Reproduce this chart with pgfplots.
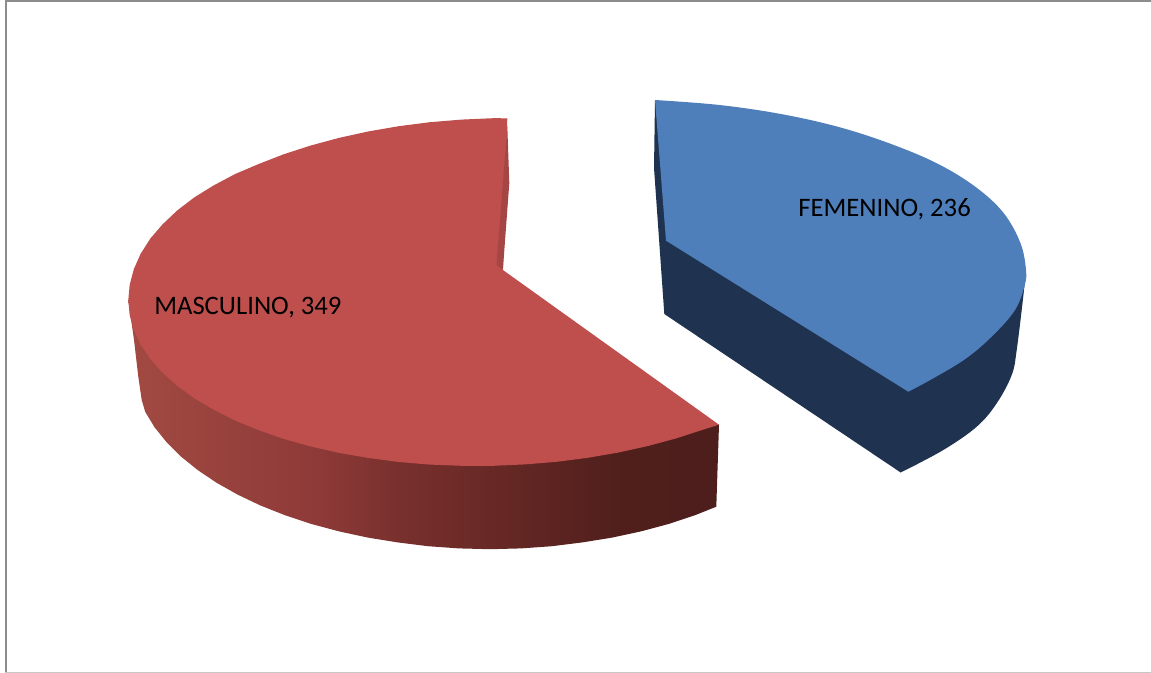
\documentclass[border=0pt]{standalone}
\usepackage{pgfplots}
\pgfplotsset{compat=1.18}
\usepackage{fontspec}
\setmainfont{Carlito}
\definecolor{redtop}{HTML}{BE4F4D}
\definecolor{redwall}{HTML}{A54644}
\definecolor{bluetop}{HTML}{4F7FBB}
\definecolor{blueside}{HTML}{1F3350}
\definecolor{rs1}{HTML}{A24A42}
\definecolor{rs2}{HTML}{8E3A38}
\definecolor{rs3}{HTML}{78302D}
\definecolor{rs4}{HTML}{662825}
\definecolor{rs5}{HTML}{501F1C}
\definecolor{rs6}{HTML}{4D1E1C}
\pgfdeclarehorizontalshading{redside}{100bp}{color(0bp)=(rs1); color(25bp)=(rs1); color(41bp)=(rs2); color(48bp)=(rs3); color(56.5bp)=(rs4); color(66.6bp)=(rs5); color(75bp)=(rs6); color(100bp)=(rs6)}
\begin{document}
\begin{tikzpicture}
\begin{axis}[
  hide axis, scale only axis,
  width=863.25pt, height=504.75pt,
  xmin=0, xmax=1151, ymin=0, ymax=673, y dir=reverse,
  every axis plot/.append style={no markers},
]
% page extent
\addplot[draw=none] coordinates {(0,0) (1151,673)};
% frame
\addplot[draw=black!45, line width=1.5pt] coordinates {(5.5,673) (5.5,1.5) (1151,1.5)};
\addplot[draw=black!22, line width=1pt] coordinates {(5,672.4) (1151,672.4)};
% masculino side
\addplot[draw=none, shading=redside] coordinates {
 (128.3,300) (134,340) (138.3,376.7) (141.7,400) (145.2,411.8) (154.5,427.2) (166.5,442.1) (180.8,456.4)
 (197.5,469.9) (216.5,482.7) (237.6,494.6) (260.5,505.5) (285.2,515.3) (311.5,524.0) (339.1,531.4)
 (367.9,537.6) (397.6,542.4) (428.0,546.2) (458.9,548.4) (490,549.2) (521.1,548.4) (552.0,546.2)
 (582.4,542.4) (612.1,537.6) (640.9,531.4) (668.5,524.0) (694.8,515.3) (716.3,506.7) (719,424.7)};
% masculino top
\addplot[draw=none, fill=redtop] coordinates {
 (507.3,118.3) (493.3,118.2) (461.5,119.6) (429.9,122.2) (398.8,126.2) (368.5,131.4) (339.0,137.9)
 (310.8,145.5) (283.9,154.2) (258.7,164.0) (235.2,174.0) (213.7,185.4) (194.3,197.4) (177.2,210.5)
 (162.5,224.4) (150.3,238.6) (140.7,253.7) (133.8,269.2) (129.7,284.8) (128.3,300) (129.7,315.2)
 (133.8,330.1) (140.7,344.7) (150.3,358.9) (162.5,372.7) (177.2,385.8) (194.3,398.3) (213.7,409.8)
 (235.2,420.6) (258.7,430.2) (283.9,439.0) (310.8,446.5) (339.0,452.9) (368.5,458.0) (398.8,462.0)
 (429.9,464.6) (461.5,465.8) (493.3,465.8) (525.1,464.4) (556.7,461.8) (587.8,457.8) (618.1,452.6)
 (647.6,446.1) (675.8,438.5) (702.7,429.8) (719,424.7) (502.9,270)};
% masculino inner wall
\addplot[draw=none, fill=redwall] coordinates {
 (507.3,126) (509.3,183) (502.9,269.5) (496.5,265)};
% femenino side
\addplot[draw=none, fill=blueside, smooth, tension=0.6] coordinates {
 (900.7,472.5) (943.3,450) (976.7,426.7) (996.7,403.3) (1011.7,375) (1016.7,350) (1024,290) (1026,268)};
\addplot[draw=none, fill=blueside] coordinates {
 (655,100) (654,168) (664.3,314) (900.7,472.5) (960,400) (1026,268)};
% femenino top
\addplot[draw=none, fill=bluetop, smooth, tension=0.6] coordinates {
 (655,100) (719.4,105) (781.9,114.2) (840.5,127.5) (893.5,144.9) (939.2,164.5) (976.3,187.5)
 (1003.6,213) (1020.4,243) (1026,270) (1024.5,286) (1015,310) (993.3,335)
 (966.7,358) (933.3,378.3) (908.3,391.7)};
\addplot[draw=none, fill=bluetop] coordinates {
 (655,100) (800,220) (908.3,391.7) (666,240.7)};
\node[anchor=base west, inner sep=0pt, font=\fontsize{20pt}{24pt}\selectfont, text=black] at (axis cs:154,314) {MASCULINO, 349};
\node[anchor=base west, inner sep=0pt, font=\fontsize{20pt}{24pt}\selectfont, text=black] at (axis cs:798,217) {FEMENINO, 236};
\end{axis}
\end{tikzpicture}
\end{document}
